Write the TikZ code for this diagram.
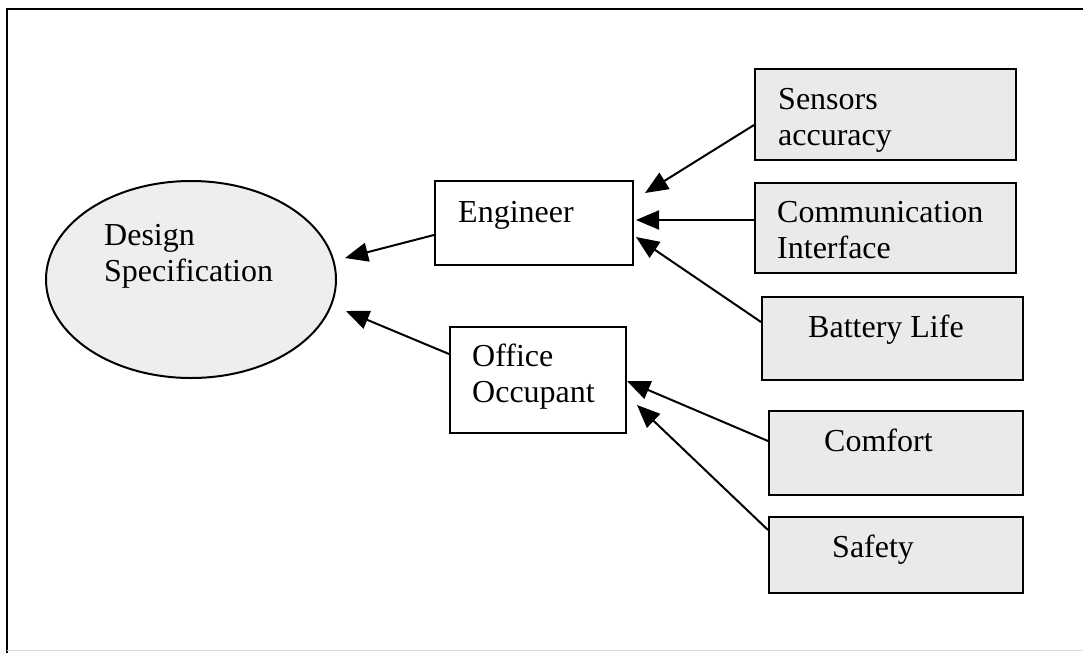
\documentclass[tikz,border=0pt]{standalone}
\usepackage{fontspec}
\setmainfont{Liberation Serif}
\usetikzlibrary{arrows.meta,shapes.geometric}
\definecolor{boxfill}{RGB}{234,234,234}
\definecolor{ellfill}{RGB}{238,238,238}
\begin{document}
\begin{tikzpicture}[x=1pt,y=-1pt,
  box/.style={draw=black,line width=2pt,fill=boxfill,inner sep=0pt},
  wbox/.style={draw=black,line width=2pt,fill=white,inner sep=0pt},
  lbl/.style={anchor=base west,inner sep=0pt,align=left,font=\fontsize{32}{36}\selectfont},
  arr/.style={line width=2pt,-{Triangle[length=23pt,width=19pt]}}]
\useasboundingbox (0,0) rectangle (1083,653);
% frame
\draw[line width=1.6pt] (7,653) -- (7,9) -- (1083,9);
\draw[line width=1pt,black!15] (7,650) -- (1083,650);
% nodes
\node[ellipse,draw=black,line width=2pt,fill=ellfill,minimum width=290pt,minimum height=197pt,inner sep=0pt] (ell) at (191,279.5) {};
\node[wbox,minimum width=198pt,minimum height=84pt] (eng) at (534,223) {};
\node[wbox,minimum width=176pt,minimum height=106pt] (occ) at (538,379.5) {};
\node[box,minimum width=261pt,minimum height=91pt] (sen) at (885.5,114.5) {};
\node[box,minimum width=261pt,minimum height=90pt] (com) at (885.5,228) {};
\node[box,minimum width=261pt,minimum height=83pt] (bat) at (892.5,338.5) {};
\node[box,minimum width=254pt,minimum height=84pt] (cmf) at (896,453) {};
\node[box,minimum width=254pt,minimum height=76pt] (saf) at (896,555) {};
% labels (base = last line)
\node[lbl] (tell) at (104,281) {Design\\Specification};
\node[lbl] (teng) at (458,222) {Engineer};
\node[lbl] (tocc) at (472,402) {Office\\Occupant};
\node[lbl] (tsen) at (778,145) {Sensors\\accuracy};
\node[lbl] (tcom) at (777,258) {Communication\\Interface};
\node[lbl] (tbat) at (808,337) {Battery Life};
\node[lbl] (tcmf) at (824,451) {Comfort};
\node[lbl] (tsaf) at (832,557) {Safety};
% arrow tips
\coordinate (t1) at (345,258);
\coordinate (t2) at (346,311);
\coordinate (t3) at (645,193);
\coordinate (t4) at (636,220);
\coordinate (t5) at (636,237);
\coordinate (t6) at (627,381);
\coordinate (t7) at (637,405);
% connectors
\draw[arr] ([yshift=-12pt]eng.west) -- (t1);
\draw[arr] ([yshift=25.5pt]occ.west) -- (t2);
\draw[arr] ([yshift=-10.5pt]sen.west) -- (t3);
\draw[arr] ([yshift=8pt]com.west) -- (t4);
\draw[arr] ([yshift=16.5pt]bat.west) -- (t5);
\draw[arr] ([yshift=12pt]cmf.west) -- (t6);
\draw[arr] ([yshift=25pt]saf.west) -- (t7);
\end{tikzpicture}
\end{document}
